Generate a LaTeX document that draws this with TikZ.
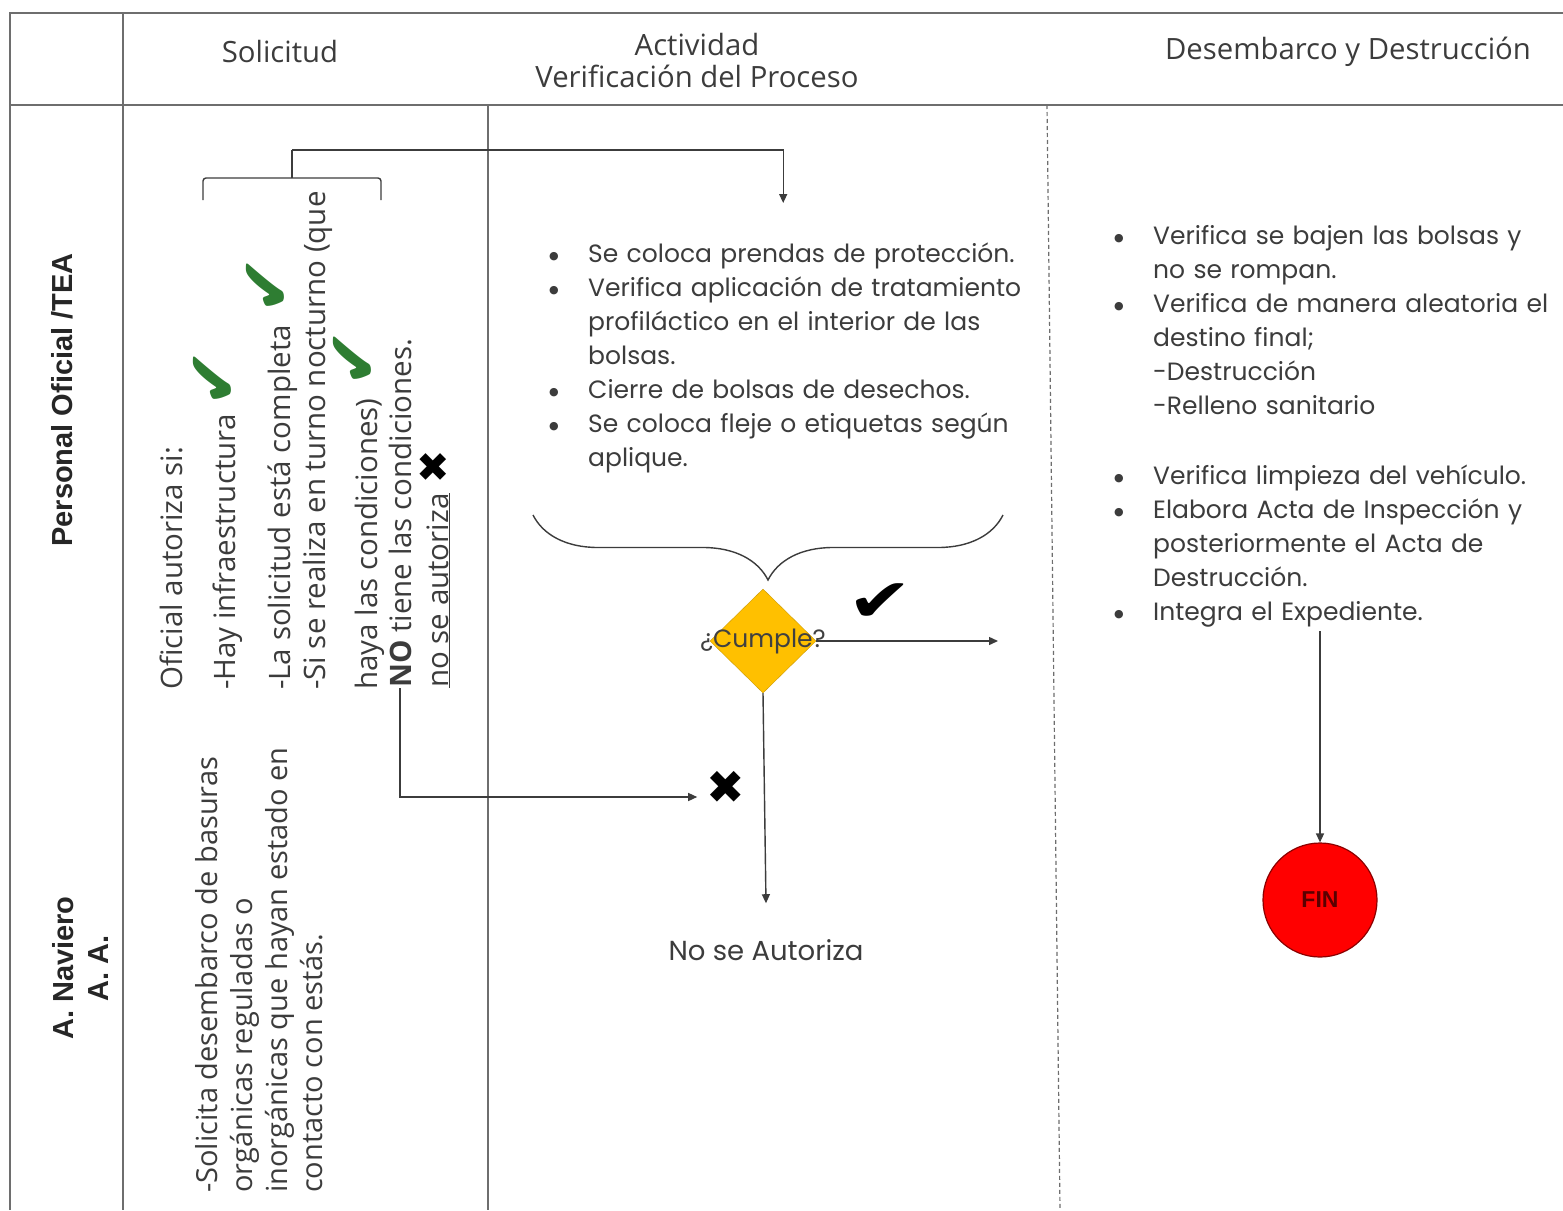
\documentclass[tikz,border=0pt]{standalone}
\usepackage{fontspec}
\setmainfont{Open Sans}
\newfontfamily\bodyfont{Poppins}
\newfontfamily\lanefont{Liberation Sans}
\newfontfamily\symfont{DejaVu Sans}
\usepackage{tikz}
\usetikzlibrary{arrows.meta,positioning,calc,shapes.geometric,decorations.pathreplacing}
\definecolor{frameg}{HTML}{6E6E6E}
\definecolor{inkg}{HTML}{3C3C3C}
\definecolor{goldx}{HTML}{FFC000}
\definecolor{checkg}{HTML}{2E7D32}
\newcommand{\bdot}{\raisebox{3pt}{\symfont\fontsize{11}{11}\selectfont●}}
\newcommand{\bitem}[1]{\par\noindent\hangindent=40pt\hangafter=1\makebox[40pt][l]{\hspace{1pt}\bdot}#1}

\begin{document}
\begin{tikzpicture}[x=1pt, y=-1pt,
  frm/.style={draw=frameg, line width=1.6pt},
  lin/.style={draw=inkg, line width=1.4pt},
  arr/.style={-{Triangle[length=9pt,width=8pt]}, draw=inkg, line width=1.4pt},
  hdr/.style={font=\fontsize{29.3}{32}\selectfont, text=inkg, align=center},
  lane/.style={rotate=90, font=\lanefont\bfseries\fontsize{29}{35}\selectfont, align=center, text=black!85},
  vtxt/.style={rotate=90, inner sep=0pt, align=left, font=\fontsize{29.5}{35}\selectfont, text=inkg},
  lst/.style={inner sep=0pt, align=left, font=\bodyfont\fontsize{25}{34}\selectfont\setlength{\parskip}{0pt}, text=inkg},
  dmd/.style={diamond, fill=goldx, draw=goldx!80!black, minimum width=106pt, minimum height=104pt, inner sep=0pt},
  okg/.style={font=\symfont\fontsize{70}{70}\selectfont, text=checkg, rotate=90},
  nok/.style={font=\symfont\fontsize{40}{40}\selectfont, text=black},
  fin/.style={circle, fill=red, draw=red!55!black, line width=1.2pt, minimum size=114pt, font=\lanefont\bfseries\fontsize{23}{23}\selectfont, text=red!35!black}]
\useasboundingbox[fill=white] (0,0) rectangle (1563,1210);
% frame and lanes
\draw[frm, line width=2.2pt] (10,1210) -- (10,13) -- (1563,13);
\draw[frm] (10,105) -- (1563,105);
\draw[frm] (123,13) -- (123,1210);
\draw[frm] (488,105) -- (488,1210);
\draw[frm, line width=1.2pt, dash pattern=on 4pt off 3pt] (1047,105) -- (1060,1210);
% headers
\node[hdr] (h1) at (280,52) {Solicitud};
\node[hdr] (h2) at (697,61) {Actividad\\Verificación del Proceso};
\node[hdr] (h3) at (1348,52) {Desembarco y Destrucción};
\node[lane] (pof) at (62,400) {Personal Oficial /TEA};
\node[lane] (nav) at (80,968) {A. Naviero\\A. A.};
% solicitud lane
\node[vtxt, anchor=north west] (cond) at (160,690) {Oficial autoriza si:\\[18pt]-Hay infraestructura\\[20pt]-La solicitud está completa\\-Si se realiza en turno nocturno (que\\[17pt]haya las condiciones)};
\node[vtxt, anchor=base west] (nocond) at (411,688) {\textbf{NO} tiene las condiciones.};
\node[vtxt, anchor=base west] (noaut) at (448,688) {\underline{no se autoriza}};
\node[vtxt, font=\fontsize{29}{35}\selectfont, anchor=north west] (sol) at (195,1193) {-Solicita desembarco de basuras\\orgánicas reguladas o\\inorgánicas que hayan estado en\\contacto con estás.};
\node[okg] (ok1) at (215,378) {✔};
\node[okg] (ok2) at (268,285) {✔};
\node[okg] (ok3) at (355,358) {✔};
\node[nok] (nk1) at (433,468) {✖};
\draw[lin, rounded corners=3pt] (203,200) -- (203,178) -- (381,178) -- (381,200);
\coordinate (brk) at (292,150);
\draw[lin] (292,178) -- (brk);
% actividad lane
\node[lst, anchor=north west, inner ysep=25pt, text width=490pt] (act) at (548,203) {%
\bitem{Se coloca prendas de protección.}
\bitem{Verifica aplicación de tratamiento\newline profiláctico en el interior de las\newline bolsas.}
\bitem{Cierre de bolsas de desechos.}
\bitem{Se coloca fleje o etiquetas según\newline aplique.}\par};
\draw[arr] (brk) -| ([xshift=-10pt]act.north);
\draw[lin, decorate, decoration={brace, amplitude=65pt}] (1003,515) -- (533,515);
\node[dmd, label={[font=\bodyfont\fontsize{25}{25}\selectfont, text=black!75]center:¿Cumple?}] (cum) at (763,641) {};
\coordinate (yes) at (998,641);
\node[nok, font=\symfont\fontsize{60}{60}\selectfont, xscale=1.3] (okb) at (880,603) {✔};
\node[nok, font=\symfont\fontsize{46}{46}\selectfont] (xmk) at (726,787) {✖};
\node[lst, inner sep=3pt, font=\bodyfont\fontsize{27.5}{30}\selectfont] (nsa) at (766,950) {No se Autoriza};
\draw[arr] (cum.east) -- (yes);
\draw[arr] (cum.south) -- ([yshift=33pt]nsa.north);
\draw[arr, shorten >=6pt] (nocond.west) |- ([yshift=-10pt]xmk.west);
% desembarco lane
\node[lst, anchor=north west, inner ysep=4pt, text width=445pt] (rlst) at (1113,206) {%
\bitem{Verifica se bajen las bolsas y\newline no se rompan.}
\bitem{Verifica de manera aleatoria el\newline destino final;\newline -Destrucción\newline -Relleno sanitario}
\par\vspace{36pt}
\bitem{Verifica limpieza del vehículo.}
\bitem{Elabora Acta de Inspección y\newline posteriormente el Acta de\newline Destrucción.}
\bitem{Integra el Expediente.}\par};
\node[fin] (fin) at (1320,900) {FIN};
\draw[arr] (rlst.south -| fin.north) -- (fin.north);
\end{tikzpicture}
\end{document}
